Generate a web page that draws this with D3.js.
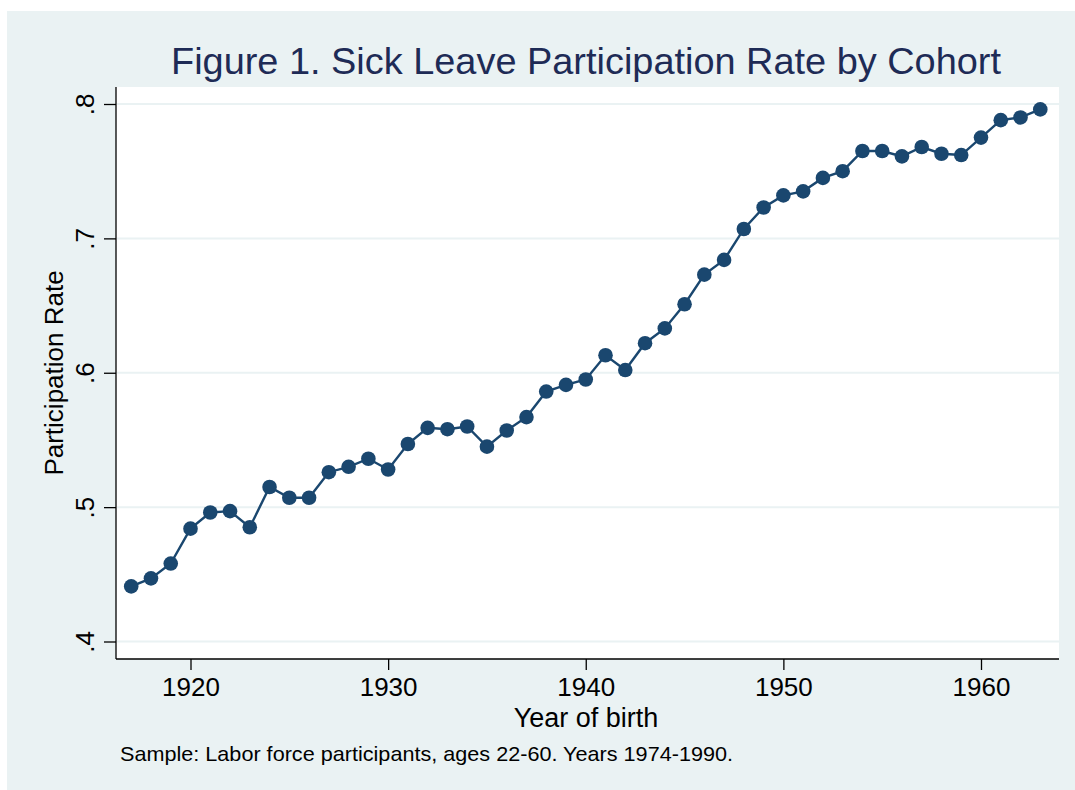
<!DOCTYPE html>
<html>
<head>
<meta charset="utf-8">
<script src="https://cdn.jsdelivr.net/npm/d3@7"></script>
<style>
  body { margin: 0; background: #ffffff; }
  text { font-family: "Liberation Sans", Arial, sans-serif; }
</style>
</head>
<body>
<div id="chart"></div>
<script>
// cohort years and participation rates
var years = [1917, 1918, 1919, 1920, 1921, 1922, 1923, 1924, 1925, 1926,
  1927, 1928, 1929, 1930, 1931, 1932, 1933, 1934, 1935, 1936,
  1937, 1938, 1939, 1940, 1941, 1942, 1943, 1944, 1945, 1946,
  1947, 1948, 1949, 1950, 1951, 1952, 1953, 1954, 1955, 1956,
  1957, 1958, 1959, 1960, 1961, 1962, 1963];
var rates = [0.441, 0.447, 0.458, 0.484, 0.496, 0.497, 0.485, 0.515, 0.507, 0.507,
  0.526, 0.530, 0.536, 0.528, 0.547, 0.559, 0.558, 0.560, 0.545, 0.557,
  0.567, 0.586, 0.591, 0.595, 0.613, 0.602, 0.622, 0.633, 0.651, 0.673,
  0.684, 0.707, 0.723, 0.732, 0.735, 0.745, 0.750, 0.765, 0.765, 0.761,
  0.768, 0.763, 0.762, 0.775, 0.788, 0.790, 0.796];
var yTicks = [0.4, 0.5, 0.6, 0.7, 0.8];
var yTickLabels = [".4", ".5", ".6", ".7", ".8"];
var xTicks = [1920, 1930, 1940, 1950, 1960];

var width = 1075,
    height = 790;

// plot region
var pLeft = 116, pRight = 1059, pTop = 87, pBottom = 659;

var svg = d3.select("#chart")
    .append("svg")
    .attr("width", width)
    .attr("height", height);

// graph region background
svg.append("rect")
    .attr("x", 7).attr("y", 11)
    .attr("width", width - 7).attr("height", height - 11)
    .attr("fill", "#eaf2f3");

svg.append("rect")
    .attr("x", pLeft).attr("y", pTop)
    .attr("width", pRight - pLeft).attr("height", pBottom - pTop)
    .attr("fill", "#ffffff");

var x = d3.scaleLinear()
    .domain([1920, 1960])
    .range([190.5, 981]);

var y = d3.scaleLinear()
    .domain([0.4, 0.8])
    .range([641.5, 104]);

// gridlines
svg.append("g")
    .selectAll("line")
    .data(yTicks)
    .enter()
    .append("line")
    .attr("x1", pLeft + 1).attr("x2", pRight)
    .attr("y1", function(d) { return y(d); })
    .attr("y2", function(d) { return y(d); })
    .attr("stroke", "#eaf2f3")
    .attr("stroke-width", 2);

// y axis
var yAxis = svg.append("g")
    .attr("transform", "translate(" + pLeft + ",0)")
    .call(d3.axisLeft(y)
        .tickValues(yTicks)
        .tickFormat(function(d, i) { return yTickLabels[i]; })
        .tickSizeOuter(0)
        .tickSize(12)
        .tickPadding(10));
yAxis.select(".domain").attr("d", "M0," + pTop + "V" + pBottom);
yAxis.selectAll("text")
    .attr("transform", "rotate(-90)")
    .attr("x", 0).attr("y", -22)
    .attr("dy", 0)
    .attr("text-anchor", "middle")
    .style("font-size", "26px")
    .attr("fill", "#000");

// x axis
var xAxis = svg.append("g")
    .attr("transform", "translate(0," + pBottom + ")")
    .call(d3.axisBottom(x)
        .tickValues(xTicks)
        .tickFormat(d3.format("d"))
        .tickSizeOuter(0)
        .tickSize(11)
        .tickPadding(8));
xAxis.select(".domain").attr("d", "M" + pLeft + ",0H" + pRight);
xAxis.selectAll("text")
    .style("font-size", "26px")
    .attr("fill", "#000");

svg.selectAll(".domain, .tick line")
    .attr("stroke", "#000")
    .attr("stroke-width", 1.3);

// series
var pts = years.map(function(d, i) { return [d, rates[i]]; });

svg.append("path")
    .datum(pts)
    .attr("fill", "none")
    .attr("stroke", "#1a476f")
    .attr("stroke-width", 2.4)
    .attr("d", d3.line()
        .x(function(d) { return x(d[0]); })
        .y(function(d) { return y(d[1]); }));

svg.append("g")
    .selectAll("circle")
    .data(pts)
    .enter()
    .append("circle")
    .attr("cx", function(d) { return x(d[0]); })
    .attr("cy", function(d) { return y(d[1]); })
    .attr("r", 7.3)
    .attr("fill", "#1a476f");

// titles
svg.append("text")
    .attr("x", 586).attr("y", 74)
    .attr("text-anchor", "middle")
    .attr("textLength", 830)
    .attr("lengthAdjust", "spacingAndGlyphs")
    .style("font-size", "36px")
    .attr("fill", "#1e2b56")
    .text("Figure 1. Sick Leave Participation Rate by Cohort");

svg.append("text")
    .attr("transform", "translate(63,373) rotate(-90)")
    .attr("text-anchor", "middle")
    .style("font-size", "26px")
    .attr("fill", "#000")
    .text("Participation Rate");

svg.append("text")
    .attr("x", 586).attr("y", 727)
    .attr("text-anchor", "middle")
    .style("font-size", "27px")
    .attr("fill", "#000")
    .text("Year of birth");

svg.append("text")
    .attr("x", 120).attr("y", 761)
    .attr("textLength", 613)
    .attr("lengthAdjust", "spacingAndGlyphs")
    .style("font-size", "21px")
    .attr("fill", "#000")
    .text("Sample: Labor force participants, ages 22-60. Years 1974-1990.");
</script>
</body>
</html>
